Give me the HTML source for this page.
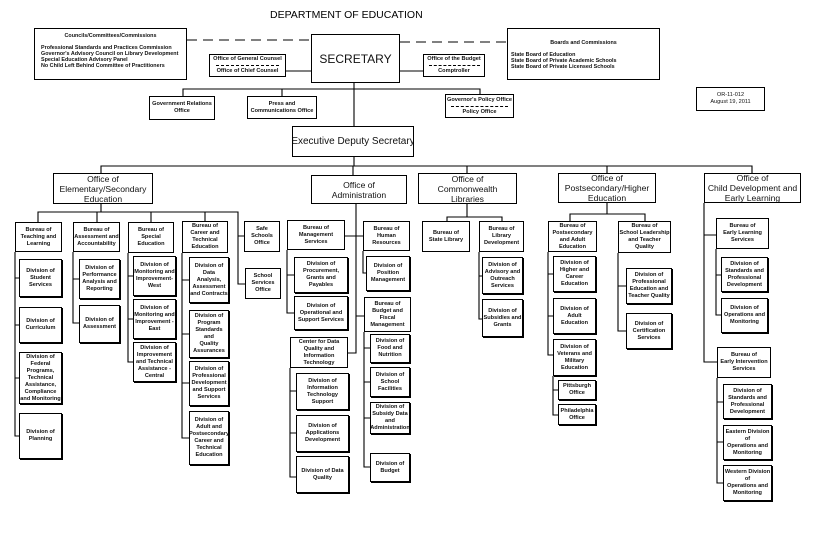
<!DOCTYPE html>
<html><head><meta charset="utf-8"><style>
body{margin:0;width:813px;height:540px;background:#fff;position:relative;overflow:hidden;font-family:"Liberation Sans",Arial,sans-serif;}
.b{position:absolute;box-sizing:border-box;border:1px solid #000;background:#fff;display:flex;align-items:center;justify-content:center;text-align:center;font-size:5.6px;line-height:7px;font-weight:bold;color:#111;overflow:hidden;}
.d{box-shadow:1px 1px 0 #000;}
.o{font-size:8.6px;line-height:10px;font-weight:normal;}
.t{position:absolute;font-size:10.5px;color:#000;}
.l{position:absolute;text-align:left;justify-content:flex-start;align-items:flex-start;}
svg{position:absolute;left:0;top:0;}
</style></head><body>
<svg width="813" height="540" fill="none" stroke="#000" stroke-width="1.1">
<path d="M187,40 H311 M400,42 H507" stroke-dasharray="10,6"/>
<path d="M286,71 H311 M400,71 H423 M354,83 V126 M183,96 V89 H480 V94 M282,89 V96
M354,157 V166 M101,173 V166 H752 V173 M353,166 V175 M467,166 V173 M607,166 V173
M101,204 V212 M38,222 V212 H238 V284 H245 M97,212 V222 M151,212 V222 M205,212 V221 M238,236 H244
M15,252 V436 H19 M15,278 H19 M15,325 H19 M15,378 H19
M73,252 V323 H79 M73,279 H79
M128,253 V362 H133 M128,276 H133 M128,319 H133
M182,253 V438 H189 M182,280 H189 M182,334 H189 M182,383 H189
M356,204 V353 H348 M345,236 H363 M356,316 H364
M287,250 V313 H294 M287,275 H294
M363,251 V273 H366
M364,332 V467 H370 M364,348 H370 M364,382 H370 M364,418 H370
M290,368 V477 H296 M290,391 H296 M290,433 H296
M467,204 V217 M447,221 V217 H502 V221
M479,252 V319 H482 M479,276 H482
M607,203 V214 M570,221 V214 H645 V221
M548,252 V355 H553 M548,274 H553 M548,316 H553
M553,376 V415 H558 M553,390 H558
M618,253 V331 H626 M618,286 H626
M704,203 V362 H717 M704,235 H716
M716,249 V315 H721 M716,275 H721
M717,378 V483 H723 M717,402 H723 M717,442 H723"/>
</svg>
<div class="t" style="left:270px;top:9px;">DEPARTMENT OF EDUCATION</div>

<div class="b l" style="left:34px;top:28px;width:153px;height:52px;padding:4px 6px;flex-direction:column;font-size:5.4px;line-height:6px;"><div style="width:100%;text-align:center;margin-bottom:6px;">Councils/Committees/Commissions</div>Professional Standards and Practices Commission<br>Governor's Advisory Council on Library Development<br>Special Education Advisory Panel<br>No Child Left Behind Committee of Practitioners</div>
<div class="b o" style="left:311px;top:34px;width:89px;height:49px;font-size:12px;">SECRETARY</div>
<div class="b" style="left:209px;top:54px;width:77px;height:23px;flex-direction:column;line-height:11px;border-width:1px;">Office of General Counsel<span style="border-top:1px dashed #000;width:85%">Office of Chief Counsel</span></div>
<div class="b" style="left:423px;top:54px;width:62px;height:23px;flex-direction:column;line-height:11px;">Office of the Budget<span style="border-top:1px dashed #000;width:85%">Comptroller</span></div>
<div class="b l" style="left:507px;top:28px;width:153px;height:52px;padding:11px 3px;flex-direction:column;font-size:5.4px;line-height:6px;"><div style="width:100%;text-align:center;margin-bottom:6px;">Boards and Commissions</div>State Board of Education<br>State Board of Private Academic Schools<br>State Board of Private Licensed Schools</div>
<div class="b" style="left:149px;top:96px;width:66px;height:24px;">Government Relations<br>Office</div>
<div class="b" style="left:247px;top:96px;width:70px;height:23px;">Press and<br>Communications Office</div>
<div class="b" style="left:445px;top:94px;width:69px;height:24px;flex-direction:column;line-height:11px;">Governor's Policy Office<span style="border-top:1px dashed #000;width:85%">Policy Office</span></div>
<div class="b" style="left:696px;top:87px;width:69px;height:24px;font-weight:normal;">OR-11-012<br>August 19, 2011</div>
<div class="b o" style="left:292px;top:126px;width:122px;height:31px;font-size:10px;white-space:nowrap;">Executive Deputy Secretary</div>

<div class="b o" style="left:53px;top:173px;width:100px;height:31px;">Office of<br>Elementary/Secondary<br>Education</div>
<div class="b o" style="left:311px;top:175px;width:96px;height:29px;">Office of<br>Administration</div>
<div class="b o" style="left:418px;top:173px;width:99px;height:31px;">Office of<br>Commonwealth<br>Libraries</div>
<div class="b o" style="left:558px;top:173px;width:98px;height:30px;">Office of<br>Postsecondary/Higher<br>Education</div>
<div class="b o" style="left:704px;top:173px;width:97px;height:30px;">Office of<br>Child Development and<br>Early Learning</div>

<div class="b" style="left:15px;top:222px;width:47px;height:30px;">Bureau of<br>Teaching and<br>Learning</div>
<div class="b d" style="left:19px;top:259px;width:43px;height:38px;">Division of<br>Student<br>Services</div>
<div class="b d" style="left:19px;top:307px;width:43px;height:36px;">Division of<br>Curriculum</div>
<div class="b d" style="left:19px;top:352px;width:43px;height:52px;">Division of<br>Federal<br>Programs,<br>Technical<br>Assistance,<br>Compliance<br>and Monitoring</div>
<div class="b d" style="left:19px;top:413px;width:43px;height:46px;">Division of<br>Planning</div>

<div class="b" style="left:73px;top:222px;width:47px;height:30px;">Bureau of<br>Assessment and<br>Accountability</div>
<div class="b d" style="left:79px;top:259px;width:41px;height:40px;">Division of<br>Performance<br>Analysis and<br>Reporting</div>
<div class="b d" style="left:79px;top:305px;width:41px;height:38px;">Division of<br>Assessment</div>

<div class="b" style="left:128px;top:222px;width:46px;height:31px;">Bureau of<br>Special<br>Education</div>
<div class="b d" style="left:133px;top:256px;width:43px;height:40px;">Division of<br>Monitoring and<br>Improvement-<br>West</div>
<div class="b d" style="left:133px;top:299px;width:43px;height:40px;">Division of<br>Monitoring and<br>Improvement -<br>East</div>
<div class="b d" style="left:133px;top:342px;width:43px;height:40px;">Division of<br>Improvement<br>and Technical<br>Assistance -<br>Central</div>

<div class="b" style="left:182px;top:221px;width:46px;height:32px;">Bureau of<br>Career and<br>Technical<br>Education</div>
<div class="b d" style="left:189px;top:257px;width:40px;height:46px;">Division of<br>Data<br>Analysis,<br>Assessment<br>and Contracts</div>
<div class="b d" style="left:189px;top:310px;width:40px;height:48px;">Division of<br>Program<br>Standards and<br>Quality<br>Assurances</div>
<div class="b d" style="left:189px;top:361px;width:40px;height:45px;">Division of<br>Professional<br>Development<br>and Support<br>Services</div>
<div class="b d" style="left:189px;top:411px;width:40px;height:54px;">Division of<br>Adult and<br>Postsecondary<br>Career and<br>Technical<br>Education</div>

<div class="b" style="left:244px;top:221px;width:36px;height:31px;">Safe<br>Schools<br>Office</div>
<div class="b" style="left:245px;top:268px;width:36px;height:31px;">School<br>Services<br>Office</div>

<div class="b" style="left:287px;top:220px;width:58px;height:30px;">Bureau of<br>Management<br>Services</div>
<div class="b d" style="left:294px;top:257px;width:54px;height:36px;">Division of<br>Procurement,<br>Grants and<br>Payables</div>
<div class="b d" style="left:294px;top:296px;width:54px;height:34px;">Division of<br>Operational and<br>Support Services</div>
<div class="b" style="left:290px;top:337px;width:58px;height:31px;">Center for Data<br>Quality and<br>Information<br>Technology</div>
<div class="b d" style="left:296px;top:373px;width:53px;height:37px;">Division of<br>Information<br>Technology<br>Support</div>
<div class="b d" style="left:296px;top:415px;width:53px;height:37px;">Division of<br>Applications<br>Development</div>
<div class="b d" style="left:296px;top:456px;width:53px;height:37px;">Division of Data<br>Quality</div>

<div class="b" style="left:363px;top:221px;width:47px;height:30px;">Bureau of<br>Human<br>Resources</div>
<div class="b d" style="left:366px;top:256px;width:44px;height:35px;">Division of<br>Position<br>Management</div>
<div class="b" style="left:364px;top:297px;width:47px;height:35px;">Bureau of<br>Budget and<br>Fiscal<br>Management</div>
<div class="b d" style="left:370px;top:334px;width:40px;height:29px;">Division of<br>Food and<br>Nutrition</div>
<div class="b d" style="left:370px;top:367px;width:40px;height:30px;">Division of<br>School<br>Facilities</div>
<div class="b d" style="left:370px;top:402px;width:40px;height:32px;">Division of<br>Subsidy Data<br>and<br>Administration</div>
<div class="b d" style="left:370px;top:453px;width:40px;height:29px;">Division of<br>Budget</div>

<div class="b" style="left:422px;top:221px;width:48px;height:31px;">Bureau of<br>State Library</div>
<div class="b" style="left:479px;top:221px;width:45px;height:31px;">Bureau of<br>Library<br>Development</div>
<div class="b d" style="left:482px;top:257px;width:41px;height:37px;">Division of<br>Advisory and<br>Outreach<br>Services</div>
<div class="b d" style="left:482px;top:299px;width:41px;height:38px;">Division of<br>Subsidies and<br>Grants</div>

<div class="b" style="left:548px;top:221px;width:49px;height:31px;">Bureau of<br>Postsecondary<br>and Adult<br>Education</div>
<div class="b d" style="left:553px;top:256px;width:43px;height:36px;">Division of<br>Higher and<br>Career<br>Education</div>
<div class="b d" style="left:553px;top:298px;width:43px;height:36px;">Division of<br>Adult<br>Education</div>
<div class="b d" style="left:553px;top:339px;width:43px;height:37px;">Division of<br>Veterans and<br>Military<br>Education</div>
<div class="b d" style="left:558px;top:380px;width:38px;height:20px;">Pittsburgh<br>Office</div>
<div class="b d" style="left:558px;top:404px;width:38px;height:21px;">Philadelphia<br>Office</div>

<div class="b" style="left:618px;top:221px;width:53px;height:32px;">Bureau of<br>School Leadership<br>and Teacher<br>Quality</div>
<div class="b d" style="left:626px;top:268px;width:46px;height:36px;">Division of<br>Professional<br>Education and<br>Teacher Quality</div>
<div class="b d" style="left:626px;top:313px;width:46px;height:36px;">Division of<br>Certification<br>Services</div>

<div class="b" style="left:716px;top:218px;width:53px;height:31px;">Bureau of<br>Early Learning<br>Services</div>
<div class="b d" style="left:721px;top:257px;width:47px;height:35px;">Division of<br>Standards and<br>Professional<br>Development</div>
<div class="b d" style="left:721px;top:298px;width:47px;height:35px;">Division of<br>Operations and<br>Monitoring</div>
<div class="b" style="left:717px;top:347px;width:54px;height:31px;">Bureau of<br>Early Intervention<br>Services</div>
<div class="b d" style="left:723px;top:384px;width:49px;height:35px;">Division of<br>Standards and<br>Professional<br>Development</div>
<div class="b d" style="left:723px;top:425px;width:49px;height:35px;">Eastern Division<br>of<br>Operations and<br>Monitoring</div>
<div class="b d" style="left:723px;top:465px;width:49px;height:36px;">Western Division<br>of<br>Operations and<br>Monitoring</div>
</body></html>
